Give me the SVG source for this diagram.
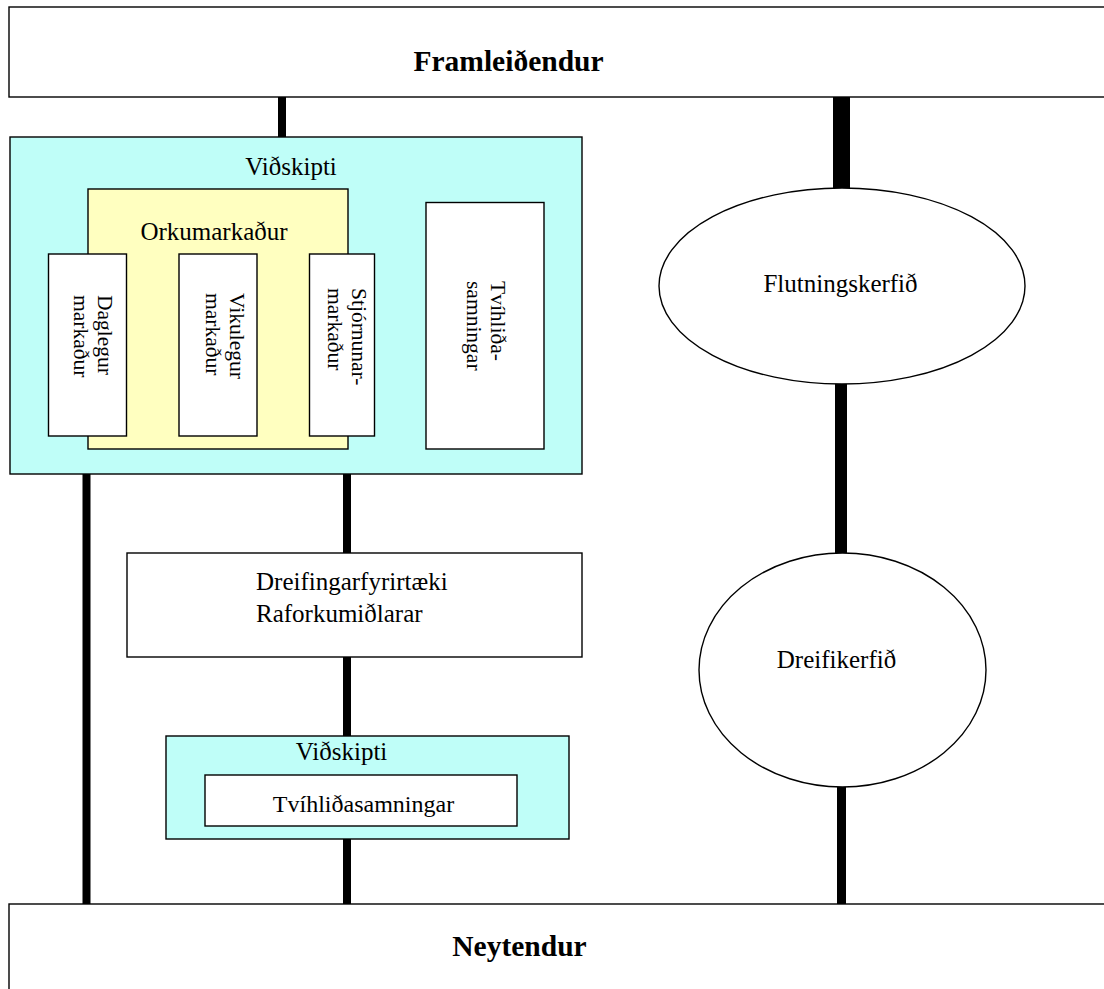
<svg xmlns="http://www.w3.org/2000/svg" width="1104" height="989" viewBox="0 0 1104 989">
<style>
.bx{fill:#ffffff;stroke:#000;stroke-width:1.4}
.cy{fill:#bffef8;stroke:#000;stroke-width:1.4}
.ye{fill:#ffffc0;stroke:#000;stroke-width:1.4}
.t{font-family:"Liberation Serif","Times New Roman",serif;font-size:25px;fill:#000}
.tb{font-family:"Liberation Serif","Times New Roman",serif;font-size:29.5px;font-weight:bold;fill:#000}
.tr{font-family:"Liberation Serif","Times New Roman",serif;font-size:21.5px;fill:#000}
.c{stroke:#000;fill:none}
</style>
<rect width="1104" height="989" fill="#ffffff"/>
<g id="connectors">
<line class="c" x1="282" y1="97" x2="282" y2="137" stroke-width="8"/>
<line class="c" x1="841.5" y1="97" x2="841.5" y2="189" stroke-width="17"/>
<line class="c" x1="841" y1="383" x2="841" y2="554" stroke-width="12"/>
<line class="c" x1="841.5" y1="786" x2="841.5" y2="904" stroke-width="9"/>
<line class="c" x1="86.5" y1="474" x2="86.5" y2="904" stroke-width="8"/>
<line class="c" x1="347" y1="474" x2="347" y2="553" stroke-width="8"/>
<line class="c" x1="347" y1="657" x2="347" y2="736" stroke-width="8"/>
<line class="c" x1="347" y1="839" x2="347" y2="904" stroke-width="8"/>
</g>
<g id="framleidendur">
<rect class="bx" x="9" y="7" width="1110" height="90"/>
<text class="tb" x="508.5" y="71" text-anchor="middle">Framleiðendur</text>
</g>
<g id="vidskipti">
<rect class="cy" x="10" y="137" width="572" height="337"/>
<text class="t" x="291" y="175" text-anchor="middle">Viðskipti</text>
</g>
<g id="orkumarkadur">
<rect class="ye" x="88" y="189" width="260" height="260"/>
<text class="t" x="214" y="240" text-anchor="middle">Orkumarkaður</text>
</g>
<g id="daglegur">
<rect class="bx" x="48.5" y="254" width="78" height="182"/>
<text class="tr" transform="translate(98,295) rotate(90)"><tspan x="0" y="0">Daglegur</tspan><tspan x="0" y="24">markaður</tspan></text>
</g>
<g id="vikulegur">
<rect class="bx" x="179" y="254" width="78" height="182"/>
<text class="tr" transform="translate(230,293) rotate(90)"><tspan x="0" y="0">Vikulegur</tspan><tspan x="0" y="24">markaður</tspan></text>
</g>
<g id="stjornunar">
<rect class="bx" x="309.5" y="254" width="65" height="182"/>
<text class="tr" transform="translate(352,288) rotate(90)"><tspan x="0" y="0">Stjórnunar-</tspan><tspan x="0" y="24">markaður</tspan></text>
</g>
<g id="tvihlida">
<rect class="bx" x="426" y="202.5" width="118" height="246.5"/>
<text class="tr" transform="translate(491,281) rotate(90)"><tspan x="0" y="0">Tvíhliða-</tspan><tspan x="0" y="24">samningar</tspan></text>
</g>
<g id="flutningskerfid">
<ellipse class="bx" cx="842" cy="286" rx="183" ry="98"/>
<text class="t" x="840.5" y="292" text-anchor="middle">Flutningskerfið</text>
</g>
<g id="dreifikerfid">
<ellipse class="bx" cx="842.5" cy="670" rx="143.5" ry="117"/>
<text class="t" x="836.5" y="668" text-anchor="middle">Dreifikerfið</text>
</g>
<g id="dreifingarfyrirtaeki">
<rect class="bx" x="127" y="553" width="455" height="104"/>
<text class="t" x="256" y="590">Dreifingarfyrirtæki</text>
<text class="t" x="256" y="622">Raforkumiðlarar</text>
</g>
<g id="vidskipti2">
<rect class="cy" x="166" y="736" width="403" height="103"/>
<text class="t" x="341.5" y="760" text-anchor="middle">Viðskipti</text>
</g>
<g id="tvihlidasamningar">
<rect class="bx" x="205" y="775" width="312" height="51"/>
<text class="t" x="363.5" y="812" text-anchor="middle" style="font-size:24px">Tvíhliðasamningar</text>
</g>
<g id="neytendur">
<rect class="bx" x="9" y="904" width="1110" height="100"/>
<text class="tb" x="519.5" y="956" text-anchor="middle">Neytendur</text>
</g>
</svg>
